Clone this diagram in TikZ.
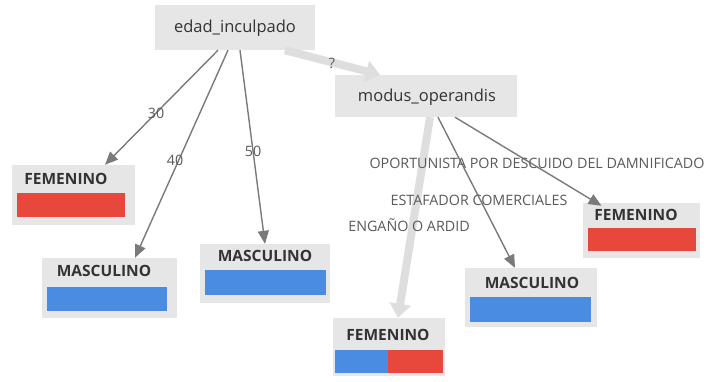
\documentclass[tikz,border=0pt]{standalone}
\usepackage{fontspec}
\setmainfont{Open Sans}
\usetikzlibrary{arrows.meta,calc}
\definecolor{boxgray}{HTML}{E6E6E6}
\definecolor{redbar}{HTML}{E8483B}
\definecolor{bluebar}{HTML}{4A8CE2}
\definecolor{edgegray}{HTML}{7A7A7A}
\definecolor{thickgray}{HTML}{DEDEDE}
\definecolor{txt}{HTML}{333333}
\definecolor{labtxt}{HTML}{5A5A5A}
\begin{document}
\begin{tikzpicture}[x=1pt,y=-1pt,
 box/.style={fill=boxgray, draw=none, inner sep=0pt},
 title/.style={font=\fontsize{16.5}{16.5}\selectfont, text=txt, inner sep=0pt},
 cat/.style={font=\bfseries\fontsize{15.5}{15.5}\selectfont, text=txt, inner sep=0pt},
 bar/.style={draw=none, inner sep=0pt},
 edge/.style={draw=edgegray, line width=1.4pt, -{Triangle[length=13pt,width=11pt]}},
 fatedge/.style={draw=thickgray, line width=8pt, -{Triangle[length=14pt,width=21pt]}},
 elab/.style={font=\fontsize{14.3}{14.3}\selectfont, text=labtxt, inner sep=0pt},
]
\path[use as bounding box, fill=white] (0,0) rectangle (708,381);

% boxes
\node[box, minimum width=160pt, minimum height=45pt] (edad) at (235,27.5) {};
\node[box, minimum width=182pt, minimum height=42pt] (modus) at (426,96) {};
\node[box, minimum width=123pt, minimum height=60pt] (f1) at (73.5,195) {};
\node[box, minimum width=135pt, minimum height=60pt] (m1) at (109.5,288) {};
\node[box, minimum width=130pt, minimum height=59pt] (m2) at (265,273.5) {};
\node[box, minimum width=112pt, minimum height=58pt] (fb) at (389,347) {};
\node[box, minimum width=132pt, minimum height=59pt] (mr) at (531,297.5) {};
\node[box, minimum width=117pt, minimum height=55pt] (fr) at (641.5,230.5) {};

% bars
\node[bar, fill=redbar, minimum width=108pt, minimum height=24pt] (f1bar) at (71,205) {};
\node[bar, fill=bluebar, minimum width=120pt, minimum height=24pt] (m1bar) at (107,299) {};
\node[bar, fill=bluebar, minimum width=121pt, minimum height=25pt] (m2bar) at (265.5,282.5) {};
\node[bar, fill=bluebar, minimum width=53pt, minimum height=23pt] (fbbarb) at (361.5,361.5) {};
\node[bar, fill=redbar, minimum width=55pt, minimum height=23pt] (fbbarr) at (415.5,361.5) {};
\node[bar, fill=bluebar, minimum width=121pt, minimum height=25pt] (mrbar) at (530.5,309.5) {};
\node[bar, fill=redbar, minimum width=108pt, minimum height=23pt] (frbar) at (642,239.5) {};

% edges
\draw[fatedge] ([xshift=50pt]edad.south) -- ([xshift=-46pt]modus.north);
\draw[fatedge] ([xshift=4pt]modus.south) -- ([xshift=9pt]fb.north);
\draw[edge] ([xshift=-17pt]edad.south) -- ([xshift=31.5pt]f1.north);
\draw[edge] ([xshift=-7pt]edad.south) -- ([xshift=25.5pt]m1.north);
\draw[edge] ([xshift=5pt]edad.south) -- ([xshift=0pt]m2.north);
\draw[edge] ([xshift=12pt]modus.south) -- ([xshift=-16pt]mr.north);
\draw[edge] ([xshift=29pt]modus.south) -- ([xshift=-40pt,yshift=-3pt]fr.north);

% texts
\node[title] (edadt) at (235,28) {edad\_inculpado};
\node[title] (modust) at (427,97) {modus\_operandis};
\node[cat] (f1t) at (66,179) {FEMENINO};
\node[cat] (m1t) at (104,271) {MASCULINO};
\node[cat] (m2t) at (265,256) {MASCULINO};
\node[cat] (fbt) at (388,335) {FEMENINO};
\node[cat] (mrt) at (532,283) {MASCULINO};
\node[cat] (frt) at (636,215) {FEMENINO};

\node[elab] (l30) at (156,113) {30};
\node[elab] (l40) at (175,160) {40};
\node[elab] (l50) at (253,151) {50};
\node[elab] (lq) at (332,63) {?};
\node[elab] (lop) at (537,163) {OPORTUNISTA POR DESCUIDO DEL DAMNIFICADO};
\node[elab] (les) at (479,200) {ESTAFADOR COMERCIALES};
\node[elab] (len) at (409,225) {ENGAÑO O ARDID};
\end{tikzpicture}
\end{document}
